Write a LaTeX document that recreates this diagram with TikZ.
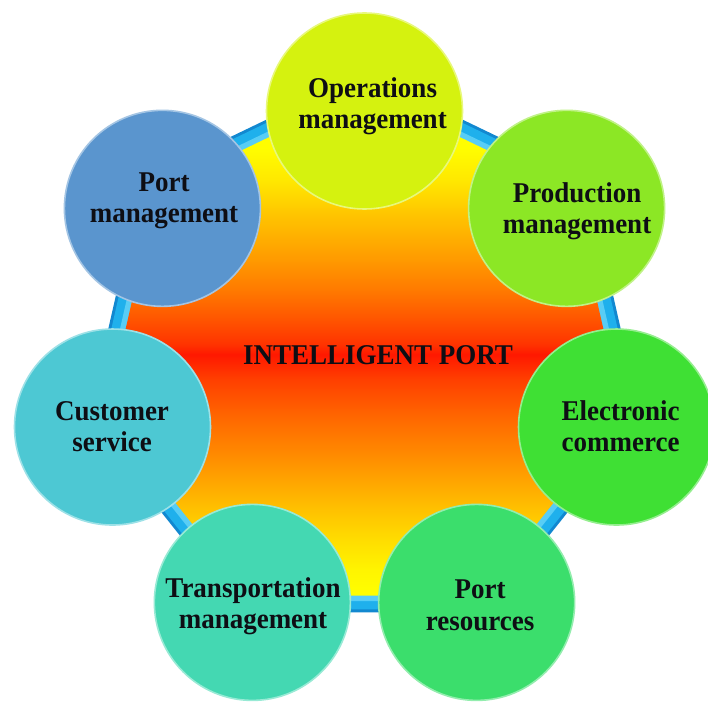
\documentclass[tikz,border=0pt]{standalone}
\usepackage{fontspec}
\usepackage{graphicx}
\setmainfont{Liberation Serif}

% fill colours of the seven topic discs
\definecolor{opsC}{HTML}{D5F20F}
\definecolor{prodC}{HTML}{8CE725}
\definecolor{ecomC}{HTML}{3FE034}
\definecolor{resC}{HTML}{3BDE6C}
\definecolor{transC}{HTML}{44D8B2}
\definecolor{custC}{HTML}{4DC8D3}
\definecolor{pmC}{HTML}{5A95CE}
% bevelled blue frame of the hub
\definecolor{ringDark}{HTML}{1288D0}
\definecolor{ringMid}{HTML}{1FB0EC}
\definecolor{ringPale}{HTML}{58CDF5}
\definecolor{inkC}{HTML}{0E0E14}

% yellow - red - yellow fill of the hub (0bp = bottom, 100bp = top)
\pgfdeclareverticalshading{hubfill}{100bp}{%
  rgb(0bp)=(1,1,0); rgb(25bp)=(1,1,0); rgb(27.5bp)=(1,.96,0);
  rgb(30.5bp)=(1,.867,0); rgb(34.5bp)=(1,.722,0); rgb(38.4bp)=(1,.565,0);
  rgb(42.4bp)=(1,.416,0); rgb(46.4bp)=(1,.25,0); rgb(48.9bp)=(1,.094,0);
  rgb(49.9bp)=(1,.2,0); rgb(52.4bp)=(1,.333,0); rgb(55.3bp)=(1,.478,0);
  rgb(58.3bp)=(1,.604,0); rgb(62.3bp)=(1,.753,0); rgb(66.2bp)=(1,.91,0);
  rgb(69.2bp)=(1,.99,0); rgb(75bp)=(1,1,0); rgb(100bp)=(1,1,0)}

% two centred lines, baseline on the first one, slightly tall lettering
\newcommand\lbltwo[2]{\scalebox{1}[1.06]{\begin{tabular}[t]{@{}c@{}}#1\\#2\end{tabular}}}
\newcommand\lblone[1]{\scalebox{1}[1.06]{#1}}

\tikzset{
  disc/.style={circle, minimum size=196pt, inner sep=0pt, fill=#1,
               draw=white!45!#1, line width=1.6pt},
  lbl/.style={inner sep=0pt, anchor=base, text=inkC,
              font=\fontsize{27}{30}\selectfont\bfseries},
}

\begin{document}
\begin{tikzpicture}[x=1pt,y=-1pt]
  \useasboundingbox (0,0) rectangle (708,701);
  \fill[white] (0,0) rectangle (708,701);

  % heptagonal hub with its blue frame
  \begin{scope}[shift={(364.5,356.5)}]
    \fill[ringDark] (-90:284.1) \foreach \k in {1,...,6} {-- ({-90+\k*360/7}:284.1)} -- cycle;
    \fill[ringMid]  (-90:280.8) \foreach \k in {1,...,6} {-- ({-90+\k*360/7}:280.8)} -- cycle;
    \fill[ringPale] (-90:271.4) \foreach \k in {1,...,6} {-- ({-90+\k*360/7}:271.4)} -- cycle;
    \shade[shading=hubfill] (-90:265.3) \foreach \k in {1,...,6} {-- ({-90+\k*360/7}:265.3)} -- cycle;
  \end{scope}

  % topic discs, evenly spaced round the hub
  \begin{scope}[shift={(364.5,369.5)}]
    \node[disc=opsC]   (ops)   at ({-90+0*360/7}:258.5) {};
    \node[disc=prodC]  (prod)  at ({-90+1*360/7}:258.5) {};
    \node[disc=ecomC]  (ecom)  at ({-90+2*360/7}:258.5) {};
    \node[disc=resC]   (res)   at ({-90+3*360/7}:258.5) {};
    \node[disc=transC] (trans) at ({-90+4*360/7}:258.5) {};
    \node[disc=custC]  (cust)  at ({-90+5*360/7}:258.5) {};
    \node[disc=pmC]    (pm)    at ({-90+6*360/7}:258.5) {};
  \end{scope}

  % labels
  \node[lbl] (hub-t)   at (378,364)   {\lblone{INTELLIGENT PORT}};
  \node[lbl] (ops-t)   at (372.5,97)  {\lbltwo{Operations}{management}};
  \node[lbl] (prod-t)  at (577,202)   {\lbltwo{Production}{management}};
  \node[lbl] (ecom-t)  at (620.5,420) {\lbltwo{Electronic}{commerce}};
  \node[lbl] (res-t)   at (480,598.5) {\lbltwo{Port}{resources}};
  \node[lbl] (trans-t) at (253,597)   {\lbltwo{Transportation}{management}};
  \node[lbl] (cust-t)  at (112,420)   {\lbltwo{Customer}{service}};
  \node[lbl] (pm-t)    at (164,191)   {\lbltwo{Port}{management}};
\end{tikzpicture}
\end{document}
